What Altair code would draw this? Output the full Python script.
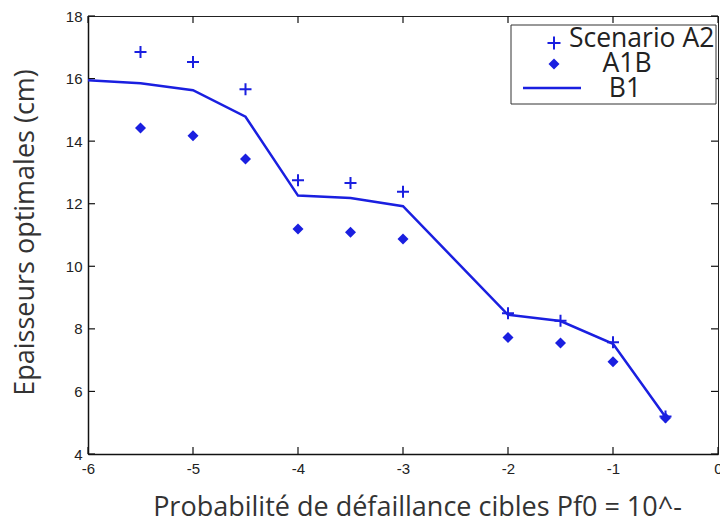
import altair as alt
import pandas as pd

# ---- data ----
x_vals = [-5.5, -5, -4.5, -4, -3.5, -3, -2, -1.5, -1, -0.5]
a2_vals = [16.85, 16.53, 15.66, 12.75, 12.66, 12.38, 8.50, 8.26, 7.57, 5.20]
a1b_vals = [14.42, 14.17, 13.43, 11.19, 11.09, 10.87, 7.72, 7.55, 6.95, 5.15]
b1_x = [-6, -5.5, -5, -4.5, -4, -3.5, -3, -2, -1.5, -1, -0.5]
b1_vals = [15.95, 15.85, 15.63, 14.78, 12.26, 12.18, 11.92, 8.45, 8.25, 7.52, 5.18]
x_ticks = [-6, -5, -4, -3, -2, -1, 0]
y_ticks = [4, 6, 8, 10, 12, 14, 16, 18]
series_names = ["Scenario A2", "A1B", "B1"]
x_title = "Probabilité de défaillance cibles Pf0 = 10^-"
y_title = "Epaisseurs optimales (cm)"

# ---- styling ----
W, H = 630, 438
BLUE = "#1a1fe0"
TICK = 7
PLUS = "M-1,0L1,0M0,-1L0,1"
LX = -6  # legend horizontal shift

df_a2 = pd.DataFrame({"x": x_vals, "y": a2_vals})
df_a1b = pd.DataFrame({"x": x_vals, "y": a1b_vals})
df_b1 = pd.DataFrame({"x": b1_x, "y": b1_vals})
df_xt = pd.DataFrame({"x": x_ticks})
df_yt = pd.DataFrame({"y": y_ticks})
one = alt.Data(values=[{"k": 1}])

xscale = alt.Scale(domain=[-6, 0], nice=False, zero=False)
yscale = alt.Scale(domain=[4, 18], nice=False, zero=False)

x_axis = alt.Axis(
    values=x_ticks, ticks=False, grid=False, labelFlush=False,
    labelExpr="'' + datum.value",
    domainColor="#111", domainWidth=1.5,
    labelFont="Liberation Sans", labelFontSize=15, labelColor="#222", labelPadding=7,
    title=x_title, titleFont="Open Sans", titleFontSize=27, titleFontWeight="normal",
    titleColor="#333", titleX=329, titleY=61, titleBaseline="alphabetic", titleAlign="center",
)
y_axis = alt.Axis(
    values=y_ticks, ticks=False, grid=False, labelFlush=False,
    labelExpr="'' + datum.value",
    domainColor="#111", domainWidth=1.5,
    labelFont="Liberation Sans", labelFontSize=15, labelColor="#222", labelPadding=6,
    title=y_title, titleFont="Open Sans", titleFontSize=27, titleFontWeight="normal",
    titleColor="#333", titleX=-55, titleY=216, titleAngle=270,
    titleBaseline="alphabetic", titleAlign="center",
)


def X(f="x"):
    return alt.X(f"{f}:Q", scale=xscale, axis=x_axis)


def Y(f="y"):
    return alt.Y(f"{f}:Q", scale=yscale, axis=y_axis)


line = alt.Chart(df_b1).mark_line(color=BLUE, strokeWidth=2.5).encode(x=X(), y=Y())
pts_a2 = alt.Chart(df_a2).mark_point(
    shape=PLUS, filled=False, strokeWidth=2, size=144, color=BLUE, opacity=1
).encode(x=X(), y=Y())
pts_a1b = alt.Chart(df_a1b).mark_point(
    shape="diamond", filled=True, size=121, color=BLUE, opacity=1
).encode(x=X(), y=Y())

# inward ticks on all four sides
rule_kw = dict(color="#111", strokeWidth=1.2)
tk_left = alt.Chart(df_yt).mark_rule(**rule_kw).encode(
    y=Y(), x=alt.value(0), x2=alt.value(TICK))
tk_right = alt.Chart(df_yt).mark_rule(**rule_kw).encode(
    y=Y(), x=alt.value(W - TICK), x2=alt.value(W))
tk_bottom = alt.Chart(df_xt).mark_rule(**rule_kw).encode(
    x=X(), y=alt.value(H - TICK), y2=alt.value(H))
tk_top = alt.Chart(df_xt).mark_rule(**rule_kw).encode(
    x=X(), y=alt.value(0), y2=alt.value(TICK))

# legend box (decoration)
leg_box = alt.Chart(one).mark_rect(fill="white", stroke="#333", strokeWidth=1).encode(
    x=alt.value(429 + LX), x2=alt.value(634 + LX), y=alt.value(9), y2=alt.value(88))
leg_plus = alt.Chart(one).mark_point(
    shape=PLUS, filled=False, strokeWidth=2, size=169, color=BLUE, opacity=1
).encode(x=alt.value(472 + LX), y=alt.value(27))
leg_dia = alt.Chart(one).mark_point(
    shape="diamond", filled=True, size=121, color=BLUE, opacity=1
).encode(x=alt.value(472 + LX), y=alt.value(48))
leg_line = alt.Chart(one).mark_rule(color=BLUE, strokeWidth=2.5).encode(
    x=alt.value(441 + LX), x2=alt.value(499 + LX), y=alt.value(72))
txt_kw = dict(font="Open Sans", fontSize=26.5, color="#222", baseline="alphabetic")
leg_t1 = alt.Chart(one).mark_text(align="left", **txt_kw).encode(
    x=alt.value(487 + LX), y=alt.value(31), text=alt.value(series_names[0]))
leg_t2 = alt.Chart(one).mark_text(align="center", **txt_kw).encode(
    x=alt.value(545 + LX), y=alt.value(56), text=alt.value(series_names[1]))
leg_t3 = alt.Chart(one).mark_text(align="center", **txt_kw).encode(
    x=alt.value(543 + LX), y=alt.value(81), text=alt.value(series_names[2]))

chart = alt.layer(
    tk_left, tk_right, tk_bottom, tk_top,
    line, pts_a2, pts_a1b,
    leg_box, leg_plus, leg_dia, leg_line, leg_t1, leg_t2, leg_t3,
).properties(
    width=W, height=H,
    autosize=alt.AutoSizeParams(type="none"),
    padding={"left": 80, "top": 8, "right": 2, "bottom": 64},
    background="white",
).configure_view(stroke="#222", strokeWidth=1)

chart.save("out.html", embed_options={"renderer": "svg", "actions": False})
